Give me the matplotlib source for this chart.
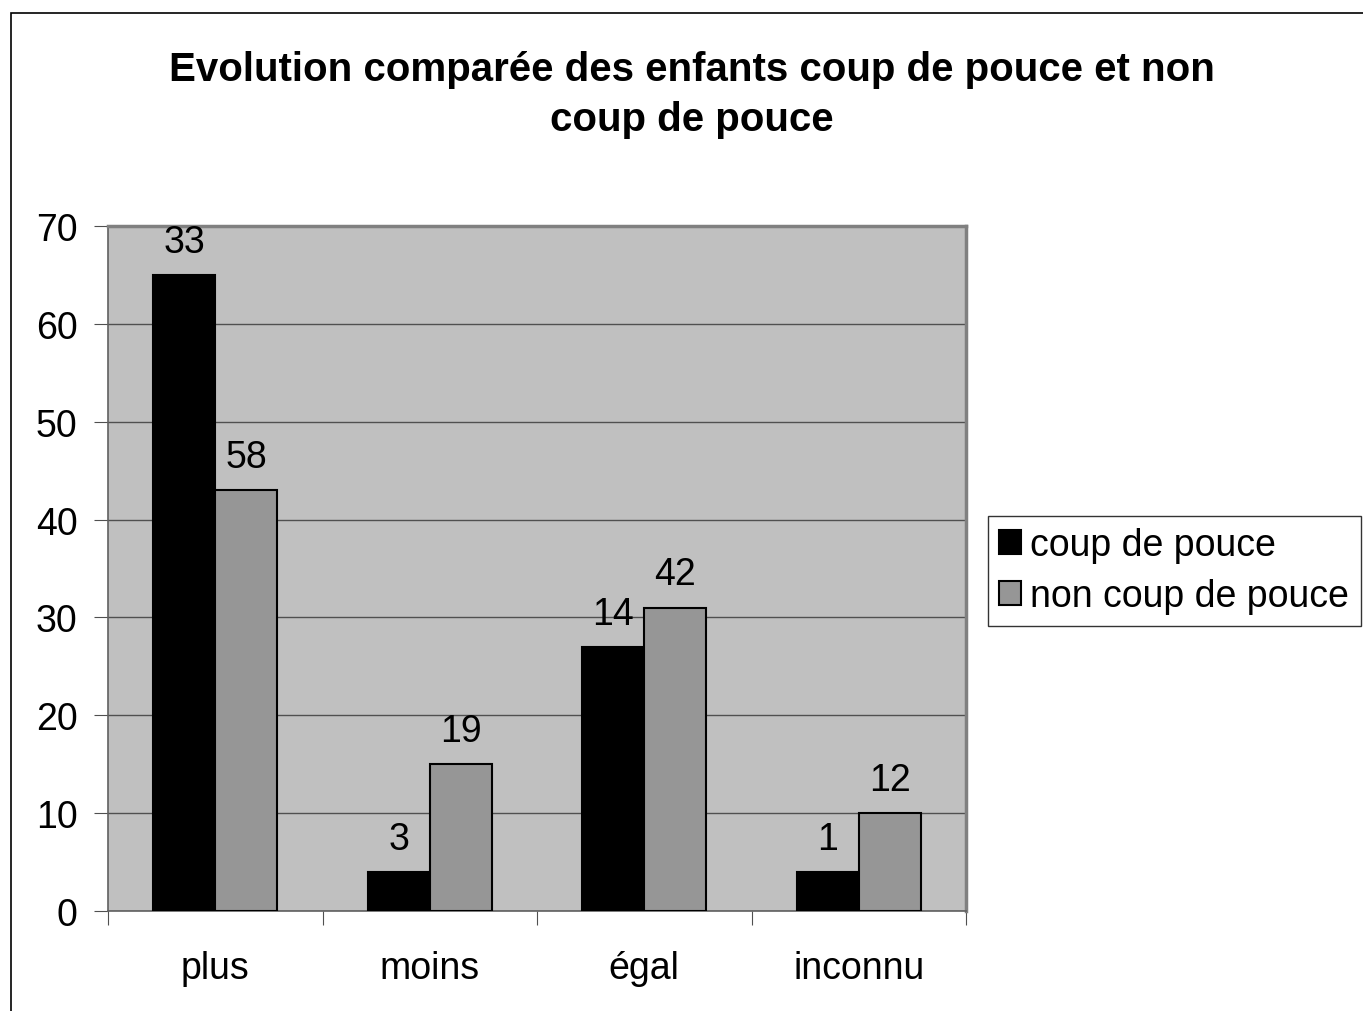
import numpy as np
import matplotlib.pyplot as plt
from matplotlib.patches import Rectangle

plt.rcParams['font.family'] = ['Liberation Sans', 'DejaVu Sans']

categories = ['plus', 'moins', 'égal', 'inconnu']
coup_pct = [65, 4, 27, 4]
non_coup_pct = [43, 15, 31, 10]
coup_counts = [33, 3, 14, 1]
non_coup_counts = [58, 19, 42, 12]

fig = plt.figure(figsize=(13.63, 10.12), dpi=100)
ax = fig.add_axes([108/1363, 1-912/1012, (966-108)/1363, (912-227)/1012])

# outer chart frame (cut off on right and bottom like the original)
fig.patches.append(Rectangle((11/1363, -0.05), 1.2, 1.05 - 14/1012, transform=fig.transFigure,
                             fill=False, edgecolor='black', linewidth=1.2, zorder=-1))

x = np.arange(len(categories))
w = 0.29
ax.set_facecolor('#c0c0c0')
b1 = ax.bar(x - w/2, coup_pct, w, color='black', edgecolor='black', linewidth=1.5,
            label='coup de pouce', zorder=3)
b2 = ax.bar(x + w/2, non_coup_pct, w, color='#969696', edgecolor='black', linewidth=1.5,
            label='non coup de pouce', zorder=3)

for bars, counts in [(b1, coup_counts), (b2, non_coup_counts)]:
    for rect, c in zip(bars, counts):
        ax.annotate(str(c), (rect.get_x() + rect.get_width()/2, rect.get_height()),
                    xytext=(0, 11), textcoords='offset points', ha='center', va='bottom',
                    fontsize=27)

ax.set_xlim(-0.5, 3.5)
ax.set_ylim(0, 70)
ax.set_yticks(range(0, 71, 10))
ax.yaxis.grid(True, color='#505050', linewidth=1)
ax.set_axisbelow(True)
ax.set_xticks(np.arange(-0.5, 4, 1))
ax.set_xticklabels([])
ax.set_xticks(x, minor=True)
ax.set_xticklabels(categories, minor=True)
ax.tick_params(axis='x', which='minor', length=0, pad=28, labelsize=27)
ax.tick_params(axis='x', which='major', length=10, color='#505050', direction='out')
ax.tick_params(axis='y', length=10, color='#505050', labelsize=27, pad=12)

for s in ['top', 'right']:
    ax.spines[s].set_color('#808080')
    ax.spines[s].set_linewidth(2.5)
for s in ['left', 'bottom']:
    ax.spines[s].set_color('#606060')
    ax.spines[s].set_linewidth(1.2)

fig.text(692/1363, 1-95/1012, 'Evolution comparée des enfants coup de pouce et non\ncoup de pouce',
         ha='center', va='center', fontsize=29, fontweight='bold', linespacing=1.4)

leg = fig.legend(loc='upper left', bbox_to_anchor=(988/1363, 1-517/1012), fontsize=27,
                 frameon=True, fancybox=False, edgecolor='black', handlelength=0.58,
                 handleheight=0.58, handletextpad=0.25, borderpad=0.3, labelspacing=0.4,
                 borderaxespad=0)
leg.get_frame().set_linewidth(1.0)

fig.savefig('out.png', dpi=100, facecolor='white')
